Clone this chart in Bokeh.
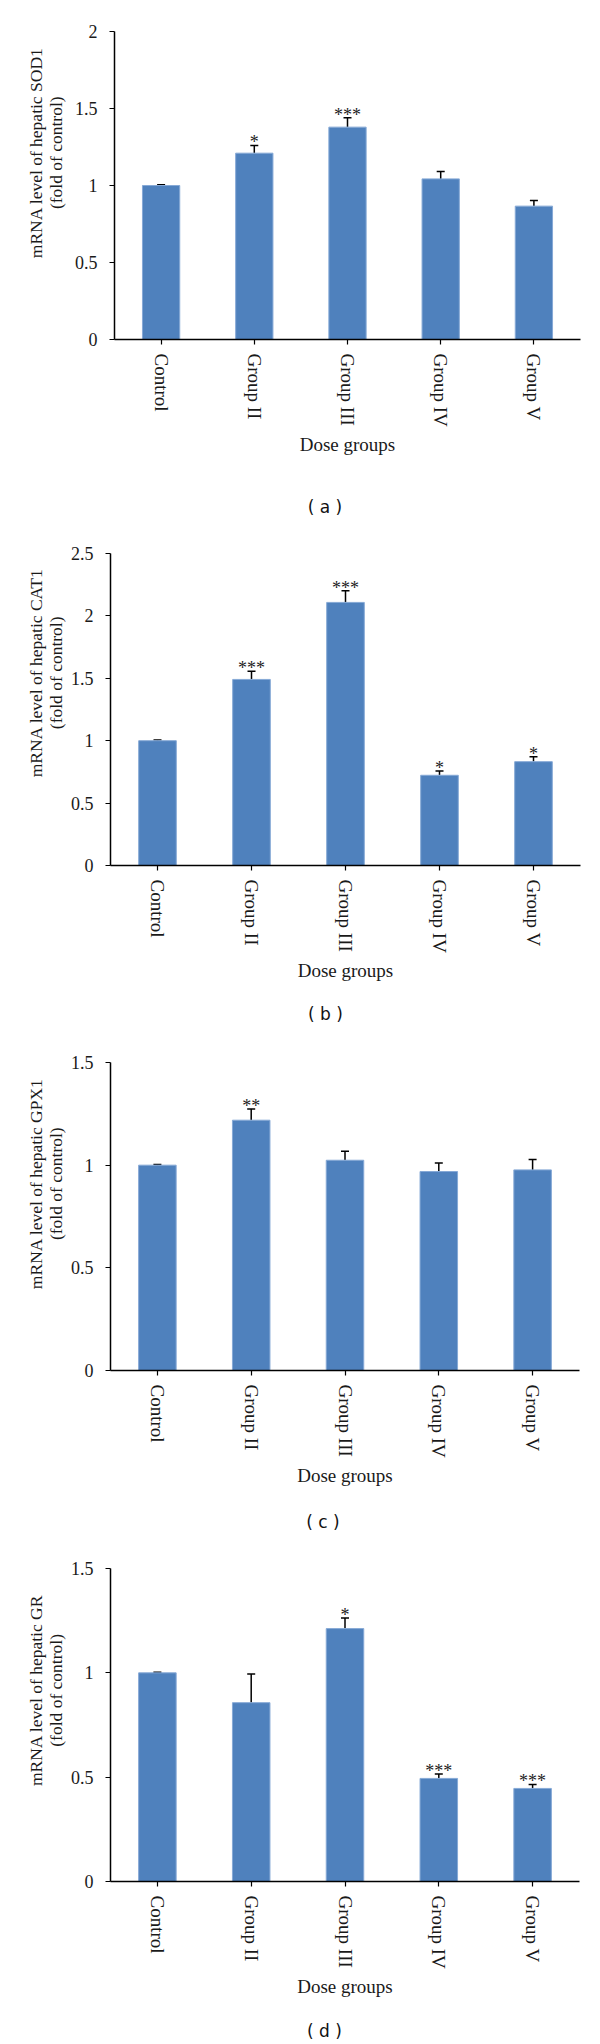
import math
from bokeh.plotting import figure
from bokeh.models import (FactorRange, Range1d, ColumnDataSource, Whisker, TeeHead,
                          FixedTicker, LabelSet)
from bokeh.layouts import column, row
from bokeh.embed import file_html
from bokeh.resources import INLINE
from bokeh.core.properties import value

groups = ["Control", "Group II", "Group III", "Group IV", "Group V"]

sod1_mean = [1.00, 1.21, 1.379, 1.043, 0.866]
sod1_err = [0.005, 0.05, 0.061, 0.048, 0.037]
sod1_sig = ["", "*", "***", "", ""]

cat1_mean = [1.00, 1.491, 2.108, 0.723, 0.832]
cat1_err = [0.005, 0.065, 0.093, 0.035, 0.04]
cat1_sig = ["", "***", "***", "*", "*"]

gpx1_mean = [1.00, 1.219, 1.024, 0.969, 0.977]
gpx1_err = [0.003, 0.054, 0.044, 0.042, 0.05]
gpx1_sig = ["", "**", "", "", ""]

gr_mean = [1.00, 0.857, 1.212, 0.494, 0.446]
gr_err = [0.003, 0.138, 0.051, 0.021, 0.019]
gr_sig = ["", "", "*", "***", "***"]

y_labels = [["mRNA level of hepatic SOD1", "(fold of control)"],
            ["mRNA level of hepatic CAT1", "(fold of control)"],
            ["mRNA level of hepatic GPX1", "(fold of control)"],
            ["mRNA level of hepatic GR", "(fold of control)"]]
y_ticks = [[0, 0.5, 1, 1.5, 2],
           [0, 0.5, 1, 1.5, 2, 2.5],
           [0, 0.5, 1, 1.5],
           [0, 0.5, 1, 1.5]]
tags = ["( a )", "( b )", "( c )", "( d )"]
x_title = "Dose groups"

SERIF = "Liberation Serif"
BAR = "#4F81BD"
W = 600
LW = 66  # width of the strip that carries the y-axis title


def make_ylabel(lines, height, top, bottom):
    f = figure(width=LW, height=height, x_range=Range1d(0, LW), y_range=Range1d(0, height),
               output_backend="svg", toolbar_location=None, x_axis_type=None,
               y_axis_type=None, min_border=0, sizing_mode="fixed")
    f.outline_line_color = None
    f.xgrid.visible = False
    f.ygrid.visible = False
    yc = height - (top + (height - top - bottom) / 2)
    f.text(x=[35, 55], y=[yc, yc], text=lines, angle=math.pi / 2, text_align="center",
           text_baseline="middle", text_font=value(SERIF),
           text_font_size=value("17.5px"), text_color="#1a1a1a")
    return f


def make_panel(mean, err, sig, ticks, height, top, bottom, left, fwidth):
    pw = W - LW
    upper = [m + e for m, e in zip(mean, err)]
    src = ColumnDataSource(dict(g=groups, m=mean, up=upper, s=sig))
    p = figure(x_range=FactorRange(*groups), y_range=Range1d(0, max(ticks)),
               width=pw, height=height, output_backend="svg", toolbar_location=None,
               min_border_top=top, min_border_bottom=bottom, min_border_left=left - LW,
               min_border_right=pw - (left - LW) - fwidth, sizing_mode="fixed")
    p.outline_line_color = None
    p.xgrid.visible = False
    p.ygrid.visible = False

    p.vbar(x="g", top="m", width=0.4, source=src, fill_color=BAR,
           line_color="#86A9D6", line_width=1)

    wh = Whisker(base="g", upper="up", lower="m", source=src,
                 upper_head=TeeHead(size=8, line_width=1.5, line_color="black"),
                 lower_head=None, line_width=1.5, line_color="black")
    p.add_layout(wh)

    stars = LabelSet(x="g", y="up", text="s", source=src, text_align="center",
                     text_baseline="alphabetic", y_offset=-3,
                     text_font=value(SERIF), text_font_size=value("18px"),
                     text_color="#222222")
    p.add_layout(stars)

    ya = p.yaxis[0]
    ya.ticker = FixedTicker(ticks=ticks)
    ya.major_label_overrides = {t: f"{t:g}" for t in ticks}
    ya.minor_tick_line_color = None
    ya.major_tick_in = 0
    ya.major_tick_out = 5
    ya.major_label_standoff = 12
    ya.axis_line_width = 1.5
    ya.major_tick_line_width = 1.2
    ya.major_label_text_font = SERIF
    ya.major_label_text_font_size = "18px"
    ya.major_label_text_color = "#1a1a1a"

    xa = p.xaxis[0]
    xa.major_tick_in = 0
    xa.major_tick_out = 5
    xa.major_tick_line_width = 1.2
    xa.axis_line_width = 1.5
    xa.major_label_orientation = "vertical"
    xa.major_label_standoff = 9
    xa.major_label_text_font = SERIF
    xa.major_label_text_font_size = "19px"
    xa.major_label_text_color = "#1a1a1a"
    xa.axis_label = x_title
    xa.axis_label_text_font = SERIF
    xa.axis_label_text_font_size = "19px"
    xa.axis_label_text_font_style = "normal"
    xa.axis_label_text_color = "#1a1a1a"
    xa.axis_label_standoff = 4
    return p


def make_tag(tag, height, center_from_top, xc):
    t = figure(width=W, height=height, x_range=Range1d(0, W), y_range=Range1d(0, height),
               output_backend="svg", toolbar_location=None, x_axis_type=None,
               y_axis_type=None, min_border=0, sizing_mode="fixed")
    t.outline_line_color = None
    t.xgrid.visible = False
    t.ygrid.visible = False
    t.text(x=[xc], y=[height - center_from_top], text=[tag], text_align="center",
           text_baseline="middle", text_font=value("DejaVu Sans"),
           text_font_size=value("17px"), text_color="#111111")
    return t


def panel_row(mean, err, sig, lines, ticks, height, top, bottom, left, fwidth):
    return row(make_ylabel(lines, height, top, bottom),
               make_panel(mean, err, sig, ticks, height, top, bottom, left, fwidth),
               spacing=0)


ra = panel_row(sod1_mean, sod1_err, sod1_sig, y_labels[0], y_ticks[0], 470, 31, 131, 114, 466)
ta = make_tag(tags[0], 65, 36.7, 324.5)
rb = panel_row(cat1_mean, cat1_err, cat1_sig, y_labels[1], y_ticks[1], 455, 18, 125, 110, 470)
tb = make_tag(tags[1], 45, 23, 325)
rc = panel_row(gpx1_mean, gpx1_err, gpx1_sig, y_labels[2], y_ticks[2], 460, 27, 125, 110, 469)
tc = make_tag(tags[2], 50, 26.7, 322.5)
rd = panel_row(gr_mean, gr_err, gr_sig, y_labels[3], y_ticks[3], 461, 23, 125, 110, 469)
td = make_tag(tags[3], 38, 24, 324)

layout = column(ra, ta, rb, tb, rc, tc, rd, td, spacing=0)
open("out.html", "w").write(file_html(layout, INLINE))
